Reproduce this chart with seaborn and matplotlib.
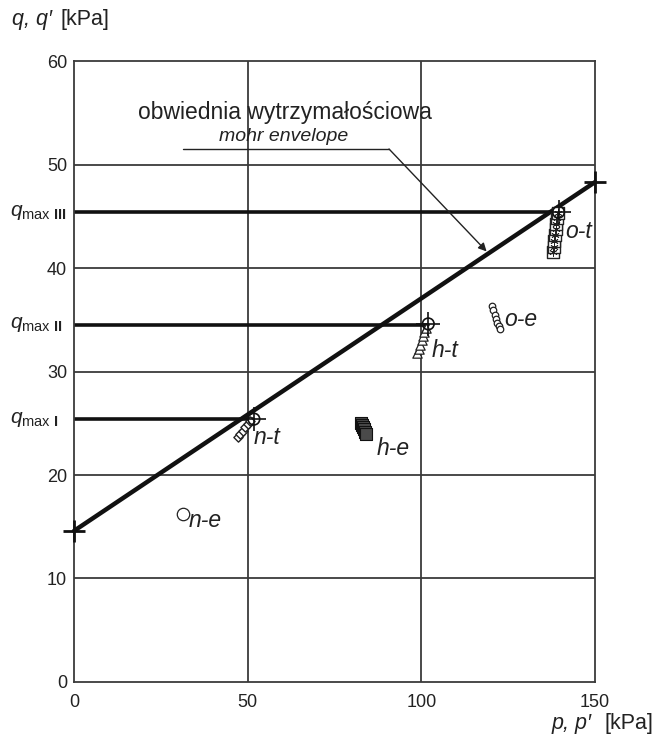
import numpy as np
import pandas as pd
import matplotlib
matplotlib.use("Agg")
import matplotlib.pyplot as plt
import seaborn as sns

# envelope (obwiednia) end points
env_p = [0, 150]
env_q = [14.6, 48.3]

# q_max levels and where their lines end
qmax_levels = [25.4, 34.5, 45.4]
qmax_ends = [51.5, 101.8, 139.4]
qmax_names = ["I", "II", "III"]

# test series
ot_p = [137.9, 138.1, 138.3, 138.5, 138.7, 138.9, 139.2, 139.4]
ot_q = [41.5, 42.0, 42.6, 43.2, 43.8, 44.3, 44.8, 45.3]
ht_p = [98.8, 99.3, 99.7, 100.1, 100.5, 100.9, 101.3]
ht_q = [31.8, 32.2, 32.6, 33.0, 33.4, 33.8, 34.2]
oe_p = [120.3, 120.7, 121.1, 121.5, 121.9, 122.3, 122.7]
oe_q = [36.3, 35.9, 35.5, 35.1, 34.7, 34.4, 34.1]
nt_p = [47.2, 47.9, 48.6, 49.3, 50.0, 50.6]
nt_q = [23.7, 24.0, 24.3, 24.6, 24.9, 25.2]
he_p = [82.7, 83.0, 83.3, 83.6, 83.9, 84.2]
he_q = [25.0, 24.8, 24.6, 24.4, 24.2, 24.0]
ne_p = [31.5]
ne_q = [16.2]

# peak points (circle + cross)
peak_p = [51.8, 102.0, 139.5]
peak_q = [25.4, 34.6, 45.4]

# series labels
lab_text = ["o-t", "h-t", "o-e", "n-t", "h-e", "n-e"]
lab_p = [141.5, 103.0, 124.0, 51.8, 87.0, 33.0]
lab_q = [43.5, 32.0, 35.0, 23.6, 22.6, 15.6]

sns.set_style("white")
plt.rcParams["font.family"] = ["Liberation Sans", "DejaVu Sans"]
plt.rcParams["mathtext.fontset"] = "custom"
plt.rcParams["mathtext.rm"] = "Liberation Sans"
plt.rcParams["mathtext.it"] = "Liberation Sans:italic"
plt.rcParams["mathtext.bf"] = "Liberation Sans:bold"

fig = plt.figure(figsize=(6.56, 7.46), dpi=100)
ax = fig.add_axes([0.1128, 0.0858, 0.7942, 0.8324])

grid_col = "#3a3a3a"
for gx in [50, 100]:
    ax.axvline(gx, color=grid_col, lw=1.3, zorder=1)
for gy in [10, 20, 30, 40, 50]:
    ax.axhline(gy, color=grid_col, lw=1.3, zorder=1)

# q_max horizontal lines
for lvl, end in zip(qmax_levels, qmax_ends):
    ax.plot([0, end], [lvl, lvl], color="#111111", lw=2.6, zorder=2)

# envelope
env = pd.DataFrame({"p": env_p, "q": env_q})
sns.lineplot(data=env, x="p", y="q", ax=ax, color="#111111", lw=3.2,
             marker="+", markersize=16, markeredgewidth=2.0,
             markeredgecolor="#111111", zorder=3, clip_on=False)

# o-t: squares with asterisk
sns.scatterplot(x=ot_p, y=ot_q, ax=ax, marker="s", s=70, facecolor="white",
                edgecolor="#222222", linewidth=1.0, zorder=4)
sns.scatterplot(x=ot_p, y=ot_q, ax=ax, marker=(6, 2, 0), s=30,
                color="#222222", linewidth=0.6, zorder=5)
# h-t: triangles
sns.scatterplot(x=ht_p, y=ht_q, ax=ax, marker="^", s=45, facecolor="white",
                edgecolor="#222222", linewidth=0.9, zorder=4)
# o-e: small circles
sns.scatterplot(x=oe_p, y=oe_q, ax=ax, marker="o", s=22, facecolor="white",
                edgecolor="#222222", linewidth=0.9, zorder=4)
# n-t: small squares
sns.scatterplot(x=nt_p, y=nt_q, ax=ax, marker="D", s=22, facecolor="white",
                edgecolor="#222222", linewidth=1.0, zorder=4)
# h-e: dark squares
sns.scatterplot(x=he_p, y=he_q, ax=ax, marker="s", s=70, facecolor="#4a4a4a",
                edgecolor="#111111", linewidth=0.8, zorder=4)
# n-e: single circle
sns.scatterplot(x=ne_p, y=ne_q, ax=ax, marker="o", s=80, facecolor="white",
                edgecolor="#222222", linewidth=0.9, zorder=4)
# peaks
sns.scatterplot(x=peak_p, y=peak_q, ax=ax, marker="o", s=70, facecolor="none",
                edgecolor="#111111", linewidth=1.2, zorder=6)
sns.scatterplot(x=peak_p, y=peak_q, ax=ax, marker="+", s=300,
                color="#111111", linewidth=1.2, zorder=6)

for t, px, py in zip(lab_text, lab_p, lab_q):
    ax.text(px, py, t, fontsize=16.5, style="italic", ha="left", va="center",
            color="#222222", zorder=7)

# annotation with leader line
ax.text(60.6, 55.0, "obwiednia wytrzymałościowa", fontsize=16.5,
        ha="center", va="center", color="#222222")
ax.text(60.3, 52.7, "mohr envelope", fontsize=14, style="italic",
        ha="center", va="center", color="#222222")
ax.plot([31.3, 90.7], [51.5, 51.5], color="#222222", lw=1.0, zorder=3)
ax.annotate("", xy=(118.8, 41.6), xytext=(90.7, 51.5),
            arrowprops=dict(arrowstyle="-|>", color="#222222", lw=1.0,
                            shrinkA=0, shrinkB=0, mutation_scale=12),
            zorder=3)

# q_max labels on the left
for lvl, name in zip(qmax_levels, qmax_names):
    ax.text(-18.5, lvl, r"$q_{\mathrm{max}\ \mathbf{" + name + "}}$",
            fontsize=15, ha="left", va="center", color="#222222",
            clip_on=False)

ax.set_xlim(0, 150)
ax.set_ylim(0, 60)
ax.set_xticks([0, 50, 100, 150])
ax.set_yticks([0, 10, 20, 30, 40, 50, 60])
ax.set_xlabel("")
ax.set_ylabel("")
ax.tick_params(axis="both", direction="out", length=4, width=1.2,
               colors="#3a3a3a", labelsize=13, labelcolor="#222222")
ax.tick_params(axis="y", pad=1)
ax.tick_params(axis="x", pad=5)
for sp in ax.spines.values():
    sp.set_color("#3a3a3a")
    sp.set_linewidth(1.3)

# axis titles: italic symbols + upright unit
fig.text(12 / 656, 1 - 20 / 746, "q, q\u2032", fontsize=15.5, style="italic",
         ha="left", va="center", color="#222222")
fig.text(61 / 656, 1 - 20 / 746, "[kPa]", fontsize=15.5,
         ha="left", va="center", color="#222222")
fig.text(552 / 656, 1 - 724 / 746, "p, p\u2032", fontsize=15.5, style="italic",
         ha="left", va="center", color="#222222")
fig.text(653 / 656, 1 - 724 / 746, "[kPa]", fontsize=15.5,
         ha="right", va="center", color="#222222")

fig.savefig("out.png", dpi=100)
